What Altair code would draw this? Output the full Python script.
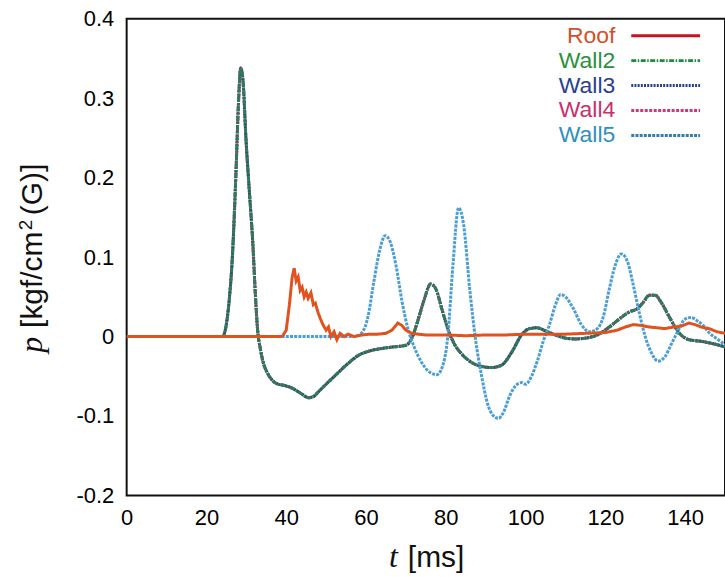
import altair as alt
import pandas as pd

# ---- data ----
wall_t = [0, 24, 24.8, 25.6, 26.5, 27.4, 28.0, 28.6, 29.2, 29.9, 30.8, 31.6, 32.3, 32.8, 33.5,
          34.2, 35.2, 36.5, 38, 39, 41.5, 43.5, 45.7, 47, 48, 50, 52.5, 55.7, 58, 61, 64, 67, 70,
          71.5, 73, 74.5, 76.2, 77.5, 79, 80.5, 82, 84, 86, 88.5, 91.5, 94, 96.5, 99, 101, 102.8,
          105, 108, 110, 112.5, 115, 118, 121, 124, 126, 128, 129.5, 131, 132.5, 134, 136, 138,
          139, 141, 144, 147, 150]
wall_p = [0, 0, 0.01, 0.04, 0.10, 0.206, 0.29, 0.338, 0.32, 0.25, 0.18, 0.12, 0.05, 0.01, -0.015,
          -0.032, -0.045, -0.055, -0.06, -0.061, -0.065, -0.071, -0.077, -0.075, -0.07, -0.06,
          -0.048, -0.033, -0.024, -0.018, -0.015, -0.013, -0.011, -0.002, 0.02, 0.045, 0.066, 0.06,
          0.035, 0.01, -0.008, -0.022, -0.031, -0.037, -0.039, -0.036, -0.02, 0.002, 0.01, 0.011,
          0.007, 0.001, -0.002, -0.003, -0.002, 0.002, 0.012, 0.024, 0.031, 0.035, 0.043, 0.052,
          0.052, 0.043, 0.025, 0.008, 0.002, -0.004, -0.006, -0.009, -0.013]

wall5_t = [0, 57, 59, 60.5, 62, 63.5, 64.8, 66, 67.5, 69, 70.5, 72, 74, 76, 77.8, 79, 80.5, 81.8,
           83.2, 84.5, 86, 87.5, 89, 90.5, 92, 93.2, 94.5, 96, 97.5, 99, 100, 101.5, 103, 104.5,
           106, 107.5, 108.8, 110, 112, 114, 116, 118, 119.5, 121, 122.5, 124, 125.5, 127, 128.5,
           130, 131.5, 133.2, 135, 136.5, 138, 140, 141.5, 143, 144.5, 146, 148, 150]
wall5_p = [0, 0, 0.005, 0.025, 0.07, 0.11, 0.127, 0.12, 0.09, 0.045, 0.01, -0.012, -0.033, -0.045,
           -0.048, -0.04, 0.0, 0.09, 0.162, 0.14, 0.06, -0.005, -0.05, -0.085, -0.1, -0.103,
           -0.095, -0.075, -0.062, -0.058, -0.06, -0.05, -0.03, -0.005, 0.015, 0.04, 0.053, 0.05,
           0.035, 0.015, 0.006, 0.01, 0.025, 0.06, 0.09, 0.104, 0.095, 0.065, 0.03, 0.0, -0.02,
           -0.031, -0.025, -0.01, 0.005, 0.022, 0.024, 0.02, 0.014, 0.005, -0.003, -0.01]

roof_t = [0, 39, 40, 40.8, 41.5, 42, 42.5, 43, 43.5, 44, 44.5, 45, 45.5, 46.2, 46.8, 47.3, 48, 48.6,
          49.2, 50, 50.6, 51.2, 52, 52.7, 53.5, 54.5, 55.5, 57, 59, 61, 63, 65, 66.5, 68, 69, 70,
          71.5, 73, 75, 77, 80, 85, 90, 95, 100, 105, 110, 115, 120, 123, 125, 127, 129, 131, 133,
          135, 137, 139, 141, 142.5, 144, 146, 148, 150]
roof_p = [0, 0, 0.008, 0.04, 0.075, 0.086, 0.07, 0.075, 0.058, 0.062, 0.05, 0.056, 0.048, 0.055,
          0.04, 0.042, 0.03, 0.022, 0.015, 0.008, 0.012, 0.0, 0.006, -0.004, 0.004, 0.0, 0.003, 0.0,
          0.002, 0.003, 0.003, 0.004, 0.008, 0.017, 0.014, 0.008, 0.004, 0.003, 0.002, 0.002,
          0.002, 0.001, 0.002, 0.002, 0.003, 0.003, 0.003, 0.004, 0.005, 0.008, 0.012, 0.015,
          0.014, 0.012, 0.011, 0.01, 0.012, 0.013, 0.017, 0.015, 0.012, 0.01, 0.006, 0.004]

series_names = ["Roof", "Wall2", "Wall3", "Wall4", "Wall5"]
label_colors = ["#d4502a", "#2a9040", "#2c3e8c", "#c8306c", "#2f8fbf"]
line_colors = ["#c8141e", "#1e8a3c", "#2a3f8f", "#c83a78", "#2f7fb0"]
plot_colors = ["#e0521e", "#2a7e56", "#2a4e78", "#b8406e", "#4a9ed4"]
dashes = [[1, 0], [5, 1.5, 1.5, 1.5], [2, 1.2], [3, 1.5], [3, 1.2]]
x_ticks = [0, 20, 40, 60, 80, 100, 120, 140]
y_ticks = [-0.2, -0.1, 0, 0.1, 0.2, 0.3, 0.4]

series_data = {
    "Roof": (roof_t, roof_p),
    "Wall2": (wall_t, wall_p),
    "Wall3": (wall_t, wall_p),
    "Wall4": (wall_t, wall_p),
    "Wall5": (wall5_t, wall5_p),
}

xscale = alt.Scale(domain=[0, 150], nice=False, zero=False)
yscale = alt.Scale(domain=[-0.2, 0.4], nice=False, zero=False)
FONT = "Liberation Sans"
SERIF = "Liberation Serif"

xaxis = alt.Axis(values=x_ticks, title=None, grid=False, ticks=False, domain=False,
                 labelFontSize=22, labelFont=FONT, labelColor="#000000", labelPadding=12,
                 labelFlush=False)
yaxis = alt.Axis(values=y_ticks, title=None, grid=False, ticks=False, domain=False,
                 labelFontSize=22, labelFont=FONT, labelColor="#000000", labelPadding=13,
                 labelFlush=False,
                 labelExpr="datum.value == 0 ? '0' : replace(format(datum.value, '.1f'), '\u2212', '-')")

draw_order = ["Wall4", "Wall3", "Wall2", "Wall5", "Roof"]
layers = []
for name in draw_order:
    i = series_names.index(name)
    t, p = series_data[name]
    df = pd.DataFrame({"t": t, "p": p})
    interp = "linear" if name == "Roof" else "monotone"
    layers.append(
        alt.Chart(df).mark_line(color=plot_colors[i], strokeWidth=3,
                                strokeDash=dashes[i], interpolate=interp, clip=True)
        .encode(x=alt.X("t:Q", scale=xscale, axis=xaxis),
                y=alt.Y("p:Q", scale=yscale, axis=yaxis))
    )

# legend
leg_y = [35, 60, 85, 110, 135]
for i, name in enumerate(series_names):
    ldf = pd.DataFrame({"label": [name]})
    layers.append(
        alt.Chart(ldf).mark_text(align="right", baseline="middle", fontSize=23, font=FONT,
                                 color=label_colors[i])
        .encode(text="label:N", x=alt.value(617 - 127), y=alt.value(leg_y[i] - 18))
    )
    layers.append(
        alt.Chart(ldf).mark_rule(color=line_colors[i], strokeWidth=3, strokeDash=dashes[i])
        .encode(x=alt.value(633 - 127), x2=alt.value(702 - 127), y=alt.value(leg_y[i] - 18))
    )

# axis titles (italic variable + upright unit)
def txt(s, x, y, size, font, style="normal", angle=0):
    return alt.Chart(pd.DataFrame({"s": [s]})).mark_text(
        align="left", baseline="alphabetic", fontSize=size, font=font, fontStyle=style,
        angle=angle, color="#111111"
    ).encode(text="s:N", x=alt.value(x - 127), y=alt.value(y - 18))

layers += [
    txt("p", 42, 353, 32, SERIF, "italic", 270),
    txt("[kgf/cm", 42, 328, 30, FONT, angle=270),
    txt("2", 32, 230, 19, FONT, angle=270),
    txt("(G)]", 42, 215, 30, FONT, angle=270),
    txt("t", 390, 568, 32, SERIF, "italic"),
    txt("[ms]", 409, 568, 30, FONT),
]

chart = alt.layer(*layers).properties(
    width=600, height=478,
    autosize=alt.AutoSizeParams(type="none"),
    padding={"left": 127, "top": 18, "right": 0, "bottom": 81},
    background="white",
).configure_view(stroke="#111111", strokeWidth=2)

chart.save("out.html", embed_options={"renderer": "svg", "actions": False})
